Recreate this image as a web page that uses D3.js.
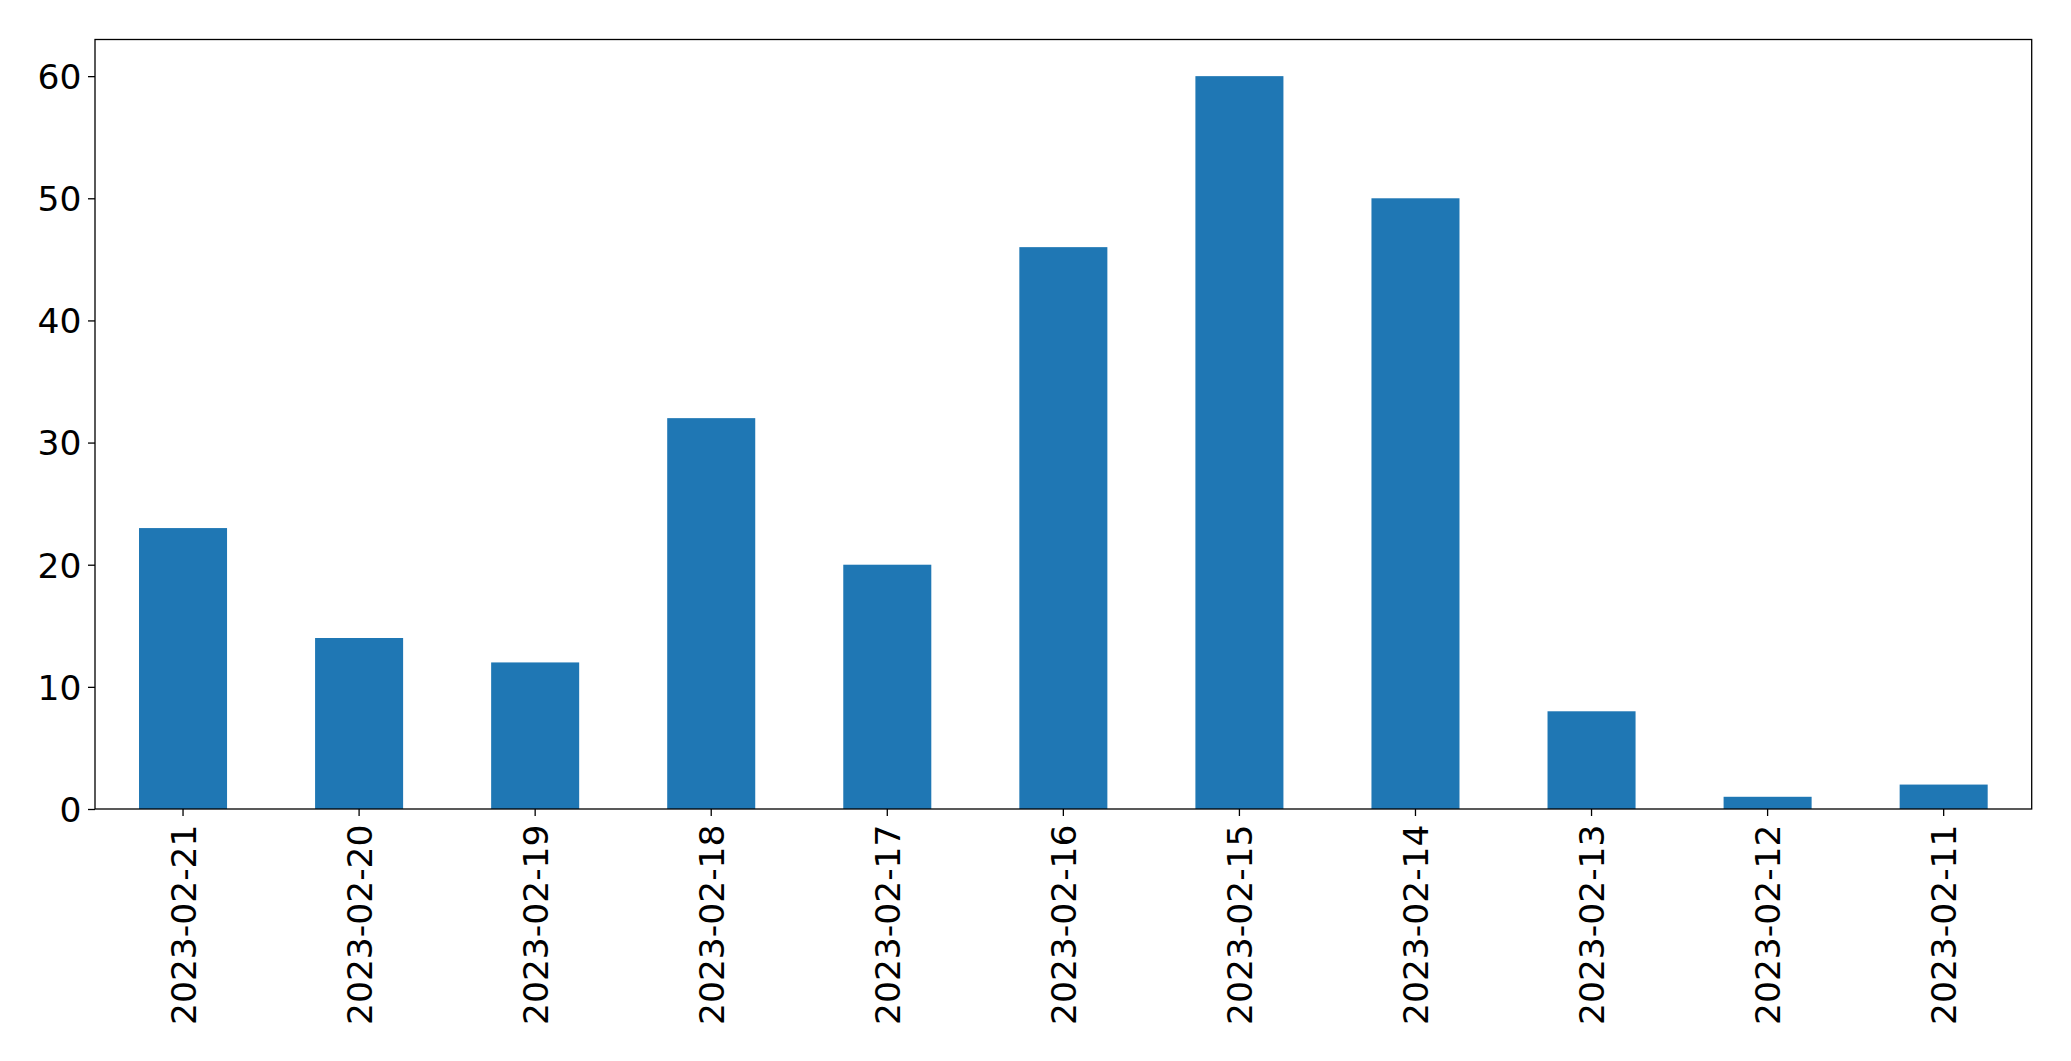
<!DOCTYPE html>
<html>
<head>
<meta charset="utf-8">
<script src="https://cdn.jsdelivr.net/npm/d3@7"></script>
<style>
  html, body { margin: 0; padding: 0; background: #fff; }
  svg { display: block; }
  text { font-family: "DejaVu Sans", sans-serif; fill: #000; }
</style>
</head>
<body>
<svg id="chart" width="2071" height="1061"></svg>
<script>
const categories = ["2023-02-21","2023-02-20","2023-02-19","2023-02-18","2023-02-17","2023-02-16","2023-02-15","2023-02-14","2023-02-13","2023-02-12","2023-02-11"];
const values = [23, 14, 12, 32, 20, 46, 60, 50, 8, 1, 2];
const yTicks = [0, 10, 20, 30, 40, 50, 60];

const W = 2071, H = 1061;
const FS = 34.5;
const margin = {left: 95, right: 2071 - 2031.7, top: 39.5, bottom: 1061 - 809};
const svg = d3.select("#chart");
const iw = W - margin.left - margin.right;
const ih = H - margin.top - margin.bottom;
const g = svg.append("g").attr("transform", `translate(${margin.left},${margin.top})`);

const x = d3.scaleBand().domain(categories).range([0, iw]).paddingInner(0.5).paddingOuter(0.25);
const y = d3.scaleLinear().domain([0, 63]).range([ih, 0]);

g.selectAll("rect.bar").data(values).join("rect")
  .attr("class", "bar")
  .attr("x", (d, i) => x(categories[i]))
  .attr("width", x.bandwidth())
  .attr("y", d => y(d))
  .attr("height", d => ih - y(d))
  .attr("fill", "#1f77b4");

// y axis
const yAxis = g.append("g").call(d3.axisLeft(y).tickValues(yTicks).tickSize(7).tickFormat(d3.format("d")));
yAxis.select(".domain").remove();
yAxis.selectAll(".tick line").attr("stroke", "#000").attr("stroke-width", 1.3);
yAxis.selectAll(".tick text")
  .attr("x", -13.5).attr("dy", null).attr("y", 12.3)
  .attr("font-size", FS).attr("font-family", "DejaVu Sans").attr("text-anchor", "end");

// x axis
const xAxis = g.append("g").attr("transform", `translate(0,${ih})`)
  .call(d3.axisBottom(x).tickSize(7));
xAxis.select(".domain").remove();
xAxis.selectAll(".tick line").attr("stroke", "#000").attr("stroke-width", 1.3);
xAxis.selectAll(".tick text")
  .attr("transform", "rotate(-90)")
  .attr("text-anchor", "end")
  .attr("dy", null)
  .attr("x", -15.5)
  .attr("y", 12.7)
  .attr("font-size", FS).attr("font-family", "DejaVu Sans");

// frame
g.append("rect").attr("x", 0).attr("y", 0).attr("width", iw).attr("height", ih)
  .attr("fill", "none").attr("stroke", "#000").attr("stroke-width", 1.3);
</script>
</body>
</html>
